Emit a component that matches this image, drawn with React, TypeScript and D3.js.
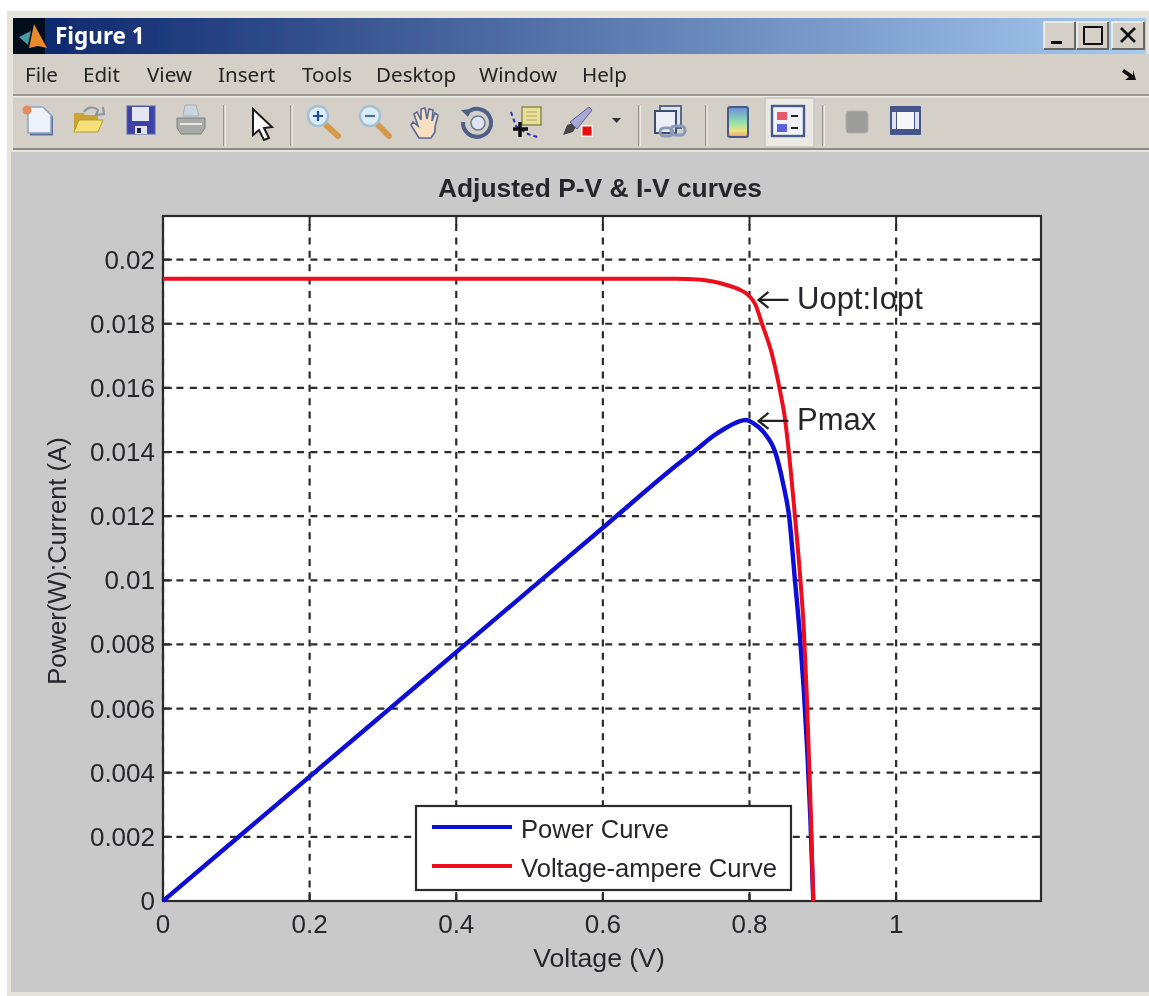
import React from "react";
import * as d3 from "d3";

const powerVoltage = [0, 0.1, 0.2, 0.3, 0.4, 0.5, 0.6, 0.7, 0.73, 0.75, 0.77, 0.785, 0.795, 0.805, 0.82, 0.835, 0.846, 0.854, 0.862, 0.869, 0.874, 0.879, 0.883, 0.887];
const powerCurve = [0, 0.00194, 0.00388, 0.00582, 0.00776, 0.0097, 0.01164, 0.01358, 0.01412, 0.01449, 0.01478, 0.01495, 0.015, 0.0149, 0.0146, 0.014, 0.013, 0.012, 0.01, 0.0082, 0.0066, 0.0046, 0.0026, 0];
const currentVoltage = [0, 0.2, 0.4, 0.6, 0.7, 0.73, 0.75, 0.77, 0.785, 0.798, 0.808, 0.817, 0.83, 0.8417, 0.848, 0.8527, 0.862, 0.8695, 0.874, 0.878, 0.883, 0.887];
const currentCurve = [0.0194, 0.0194, 0.0194, 0.0194, 0.0194, 0.01938, 0.01932, 0.0192, 0.01908, 0.0189, 0.0186, 0.018, 0.0171, 0.0159, 0.0151, 0.0142, 0.012, 0.01, 0.0085, 0.0065, 0.0032, 0];
const xTicks = [0, 0.2, 0.4, 0.6, 0.8, 1];
const yTicks = [0, 0.002, 0.004, 0.006, 0.008, 0.01, 0.012, 0.014, 0.016, 0.018, 0.02];
const menuItems: [string, number][] = [["File", 25], ["Edit", 83], ["View", 147], ["Insert", 218], ["Tools", 302], ["Desktop", 376], ["Window", 479], ["Help", 582]];
const seriesNames = ["Power Curve", "Voltage-ampere Curve"];
const seriesColors = ["#0a0ad8", "#ee0f1c"];
const annotations = [
  { label: "Uopt:Iopt", x: 0.8, y: 0.0189 },
  { label: "Pmax", x: 0.8, y: 0.015 },
];

const W = 1149, H = 996;
const plot = { left: 163, right: 1041, top: 216, bottom: 901 };
const x = d3.scaleLinear().domain([0, 1.1976]).range([plot.left, plot.right]);
const y = d3.scaleLinear().domain([0, 0.02136]).range([plot.bottom, plot.top]);
const SANS = "'Liberation Sans', Arial, sans-serif";
const INK = "#26262c";
const LINE = "#2c2c2c";

const pathFor = (vs: number[], ys: number[]) =>
  d3.line<number>().x((_, i) => x(vs[i])).y((d) => y(d)).curve(d3.curveMonotoneX)(ys) ?? "";

function Sep({ px }: { px: number }) {
  return <g><rect x={px} y={105} width={1.5} height={41} fill="#96948c" /><rect x={px + 1.5} y={105} width={1.2} height={41} fill="#f4f2ec" /></g>;
}

function WinButton({ bx, w }: { bx: number; w: number }) {
  return (
    <g>
      <rect x={bx} y={22} width={w} height={27} fill="#d4d0c8" />
      <path d={`M${bx} 49V22H${bx + w}`} fill="none" stroke="#f6f4ee" strokeWidth={1.5} />
      <path d={`M${bx} 49H${bx + w}V22`} fill="none" stroke="#6a6860" strokeWidth={2} />
    </g>
  );
}

function Toolbar() {
  return (
    <g>
      <path d="M29 107h15l8 8v19H29z" fill="#5f7298" transform="translate(1 1.5)" />
      <path d="M28 107h15l8 8v18H28z" fill="#eef3fb" stroke="#8fa4c4" strokeWidth={1.5} />
      <circle cx={27} cy={110} r={4.5} fill="#ea8a5a" />
      <path d="M74 132v-19h9l2 2h13v17z" fill="#c8a432" />
      <path d="M74 132l5-12h24l-5 12z" fill="#f4e078" stroke="#b89a30" strokeWidth={1} />
      <path d="M84 112a9 9 0 0 1 14-2l-2 5 8-1-1-7" fill="none" stroke="#8e98a0" strokeWidth={2.2} />
      <rect x={127} y={106} width={28} height={28} fill="#3d42a8" stroke="#5a64a4" />
      <rect x={132} y={107} width={17} height={14} fill="#e6e6f2" />
      <rect x={135} y={126} width={12} height={8} fill="#e0e0e8" />
      <rect x={137} y={128} width={4} height={5} fill="#20204a" />
      <path d="M183 116l2-11h11l3 11z" fill="#c8d4de" stroke="#a4b0ba" />
      <path d="M177 118h28v10l-4 6h-20l-4-6z" fill="#a8aaa8" stroke="#7c7e7e" />
      <path d="M180 124h22" stroke="#e8e8e8" strokeWidth={2} />
      <path d="M253 109v26l6-5 5 10 5-2-5-10 8-1z" fill="#fff" stroke="#1a1a1a" strokeWidth={2} />
      <path d="M326 125l12 11" stroke="#d49a4a" strokeWidth={6} strokeLinecap="round" />
      <circle cx={318} cy={116} r={10} fill="#dcecf8" stroke="#a4c0d4" strokeWidth={2.5} />
      <path d="M313 116h10M318 111v10" stroke="#1f4f90" strokeWidth={2.2} />
      <path d="M378 125l11 11" stroke="#d49a4a" strokeWidth={6} strokeLinecap="round" />
      <circle cx={370} cy={116} r={10} fill="#dcecf8" stroke="#a4c0d4" strokeWidth={2.5} />
      <path d="M365 116h10" stroke="#4f6f90" strokeWidth={2.2} />
      <path d="M419 138l-8-13 2-3 5 4-4-12 3-2 4 8 0-11 4-1 2 11 2-10 4 1-1 11 3-8 3 2-3 12v5l-4 6z" fill="#f8dfc0" stroke="#5a6a98" strokeWidth={1.6} />
      <path d="M467 113a14 14 0 1 1-4 9" fill="none" stroke="#4f5f88" strokeWidth={4} />
      <path d="M461 110l11-1-4 8z" fill="#4f5f88" />
      <circle cx={478} cy={123} r={7} fill="#dfe4ee" stroke="#6a7a98" strokeWidth={1.5} />
      <rect x={522} y={107} width={19} height={18} fill="#e8e09a" stroke="#8a8a50" strokeWidth={1.5} />
      <path d="M526 112h11M526 116h11M526 120h11" stroke="#b0a860" />
      <path d="M511 112l5 14 12 8 12 4" fill="none" stroke="#2a30b8" strokeWidth={2} strokeDasharray="4 3" />
      <path d="M513 129h15M520 122v15" stroke="#111" strokeWidth={3.5} />
      <path d="M563 135l4-10 6-2 3 4-3 5z" fill="#444" />
      <path d="M570 122l19-15 3 3-15 19z" fill="#a8a8d8" stroke="#606088" />
      <rect x={581} y={125} width={12} height={12} fill="#fbeeee" />
      <rect x={582.5} y={126.5} width={9} height={9} fill="#ee1010" />
      <path d="M612 118h9l-4.5 5z" fill="#333" />
      <rect x={660} y={106} width={21} height={22} fill="#e0e4ee" stroke="#5a6a88" strokeWidth={2} />
      <rect x={655} y={111} width={21} height={22} fill="#eceff6" stroke="#3e4e70" strokeWidth={2} />
      <rect x={660} y={128} width={13} height={8} rx={4} fill="none" stroke="#8a9ab8" strokeWidth={3} />
      <rect x={671} y={126} width={14} height={9} rx={4} fill="none" stroke="#8a9ab8" strokeWidth={3} />
      <rect x={728} y={107} width={20} height={30} rx={2} fill="url(#cbar)" stroke="#4a5a88" strokeWidth={2} />
      <rect x={765} y={98} width={49} height={49} fill="#ebe9e4" stroke="#c8c6be" strokeWidth={1.5} />
      <rect x={772} y={106} width={32} height={30} fill="#f0f2f8" stroke="#4a5a88" strokeWidth={2.4} />
      <rect x={777} y={112} width={10} height={8} fill="#e85868" />
      <rect x={777} y={124} width={10} height={8} fill="#5a62e0" />
      <path d="M791 116h7M791 128h7" stroke="#222" strokeWidth={2} />
      <rect x={846} y={111} width={22} height={22} rx={3} fill="#9c9c9a" stroke="#b4b2ac" />
      <rect x={890} y={106} width={31} height={29} rx={1} fill="#44558a" />
      <rect x={897} y={112} width={17} height={17} fill="#f6f6f8" />
      <rect x={892} y={112} width={4} height={17} fill="#dfe2ec" />
      <rect x={915} y={112} width={4} height={17} fill="#dfe2ec" />
      <Sep px={223} /><Sep px={290} /><Sep px={638} /><Sep px={705} /><Sep px={822} />
    </g>
  );
}

export default function App() {
  return (
    <svg width={W} height={H} viewBox={`0 0 ${W} ${H}`} style={{ position: "absolute", left: 0, top: 0, display: "block" }}>
      <defs>
        <linearGradient id="tbar" x1="0" x2="1" y1="0" y2="0">
          <stop offset="0" stopColor="#0a246a" />
          <stop offset="1" stopColor="#a6caf0" />
        </linearGradient>
        <linearGradient id="cbar" x1="0" x2="0" y1="0" y2="1">
          <stop offset="0" stopColor="#6a8ad8" />
          <stop offset="0.5" stopColor="#90e0b0" />
          <stop offset="0.8" stopColor="#f0e080" />
          <stop offset="1" stopColor="#f09a70" />
        </linearGradient>
        <filter id="soft" filterUnits="userSpaceOnUse" x={0} y={0} width={W} height={H}>
          <feGaussianBlur stdDeviation={0.75} />
        </filter>
      </defs>
      <rect width={W} height={H} fill="#fff" />
      <g filter="url(#soft)">
        <rect x={7} y={11} width={W - 7} height={985} fill="#e6e3da" />
        <rect x={11} y={152} width={W - 11} height={840} fill="#c9c9c9" />
        <rect x={13} y={54} width={W - 13} height={98} fill="#d4d0c8" />
        <rect x={13} y={18} width={1133} height={36} fill="url(#tbar)" />
        <rect x={13} y={18} width={32} height={36} fill="#05081c" />
        <path d="M19 37l12-6-3 14z" fill="#4a9a9a" />
        <path d="M34 24l13 24-9-2-9 2z" fill="#e88a2a" />
        <text x={55} y={44} fontFamily="'Noto Sans', sans-serif" fontWeight={700} fontSize={22.5} fill="#fff">Figure 1</text>
        <WinButton bx={1044} w={31} />
        <WinButton bx={1077} w={31} />
        <WinButton bx={1112} w={32} />
        <rect x={1051} y={41} width={11} height={3} fill="#111" />
        <rect x={1084} y={27} width={18} height={17} fill="none" stroke="#111" strokeWidth={2} />
        <path d="M1121 28l14 14M1135 28l-14 14" stroke="#111" strokeWidth={2.8} />
        {menuItems.map(([t, mx]) => (
          <text key={t} x={mx} y={82} fontFamily="'Noto Sans', sans-serif" fontSize={20.6} fill="#222">{t}</text>
        ))}
        <path d="M1124 69l9 6v-5l3 10-11 0 4-3-7-5z" fill="#111" />
        <rect x={13} y={94} width={W - 13} height={2} fill="#9a9890" />
        <rect x={13} y={96} width={W - 13} height={1.5} fill="#eeece6" />
        <rect x={13} y={148} width={W - 13} height={2} fill="#8e8c86" />
        <rect x={13} y={150} width={W - 13} height={2} fill="#e6e4de" />
        <Toolbar />

        <text x={600} y={197} textAnchor="middle" fontFamily={SANS} fontWeight={700} fontSize={26.4} fill={INK}>Adjusted P-V &amp; I-V curves</text>

        <rect x={plot.left} y={plot.top} width={plot.right - plot.left} height={plot.bottom - plot.top} fill="#fff" />
        {xTicks.map((t) => (
          <line key={t} x1={x(t)} x2={x(t)} y1={plot.bottom} y2={plot.top} stroke={LINE} strokeWidth={2.2} strokeDasharray="7 6.4" />
        ))}
        {yTicks.map((t) => (
          <line key={t} x1={plot.left} x2={plot.right} y1={y(t)} y2={y(t)} stroke={LINE} strokeWidth={2.2} strokeDasharray="7 6.4" />
        ))}
        {xTicks.map((t) => (
          <g key={t}>
            <line x1={x(t)} x2={x(t)} y1={plot.bottom} y2={plot.bottom - 9} stroke={LINE} strokeWidth={2} />
            <line x1={x(t)} x2={x(t)} y1={plot.top} y2={plot.top + 9} stroke={LINE} strokeWidth={2} />
            <text x={x(t)} y={933} textAnchor="middle" fontFamily={SANS} fontSize={26} fill={INK}>{String(t)}</text>
          </g>
        ))}
        {yTicks.map((t) => (
          <g key={t}>
            <line x1={plot.left} x2={plot.left + 9} y1={y(t)} y2={y(t)} stroke={LINE} strokeWidth={2} />
            <line x1={plot.right} x2={plot.right - 9} y1={y(t)} y2={y(t)} stroke={LINE} strokeWidth={2} />
            <text x={155} y={y(t) + 9} textAnchor="end" fontFamily={SANS} fontSize={26} fill={INK}>{String(t)}</text>
          </g>
        ))}
        <rect x={plot.left} y={plot.top} width={plot.right - plot.left} height={plot.bottom - plot.top} fill="none" stroke={LINE} strokeWidth={2.2} />

        <path d={pathFor(powerVoltage, powerCurve)} fill="none" stroke={seriesColors[0]} strokeWidth={4.4} />
        <path d={pathFor(currentVoltage, currentCurve)} fill="none" stroke={seriesColors[1]} strokeWidth={4} />

        {annotations.map((a) => {
          const ay = y(a.y) + (a.label === "Pmax" ? 1 : 5);
          const tipX = x(a.x) + 9;
          return (
            <g key={a.label}>
              <path d={`M${tipX} ${ay}H${tipX + 30}M${tipX + 10} ${ay - 8}L${tipX} ${ay}L${tipX + 10} ${ay + 8}`} fill="none" stroke="#222" strokeWidth={2.2} />
              <text x={797} y={ay + 9} fontFamily={SANS} fontSize={31} fill={INK}>{a.label}</text>
            </g>
          );
        })}

        <text transform="translate(66 561) rotate(-90)" textAnchor="middle" fontFamily={SANS} fontSize={25.6} fill={INK}>Power(W):Current (A)</text>
        <text x={599} y={967} textAnchor="middle" fontFamily={SANS} fontSize={26.6} fill={INK}>Voltage (V)</text>

        <rect x={416} y={806} width={375} height={84} fill="#fff" stroke={LINE} strokeWidth={2.2} />
        {seriesNames.map((n, i) => (
          <g key={n}>
            <line x1={432} x2={512} y1={827 + i * 39} y2={827 + i * 39} stroke={seriesColors[i]} strokeWidth={4} />
            <text x={521} y={838 + i * 39} fontFamily={SANS} fontSize={25.6} fill={INK}>{n}</text>
          </g>
        ))}
      </g>
    </svg>
  );
}
